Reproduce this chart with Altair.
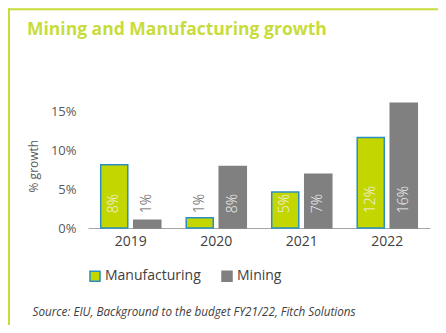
import altair as alt
import pandas as pd

years = ["2019", "2020", "2021", "2022"]
manufacturing = [8.1, 1.3, 4.6, 11.6]
mining = [1.0, 7.9, 6.9, 16.0]
series_names = ["Manufacturing", "Mining"]
y_ticks = [0, 5, 10, 15]
title_text = "Mining and Manufacturing growth"
source_text = "Source: EIU, Background to the budget FY21/22, Fitch Solutions"

rows = []
for i, yr in enumerate(years):
    rows.append({"year": yr, "series": series_names[0], "value": manufacturing[i]})
    rows.append({"year": yr, "series": series_names[1], "value": mining[i]})
df = pd.DataFrame(rows)

GREEN = "#c8dc3c"
FONT = "Open Sans"

x_enc = alt.X("year:N", sort=years,
              scale=alt.Scale(paddingInner=0, paddingOuter=0),
              axis=alt.Axis(title=source_text, titleAnchor="start", titleX=-56, titleY=87,
                            titleFontStyle="italic", titleFontWeight="normal", titleFontSize=11.7,
                            titleColor="#404040", titleFont=FONT, titleBaseline="alphabetic",
                            labelAngle=0, labelFontSize=14, labelColor="#404040", labelFont=FONT,
                            labelPadding=6, ticks=False, domainColor="#a6a6a6", domainWidth=1))
xoff = alt.XOffset("series:N", sort=series_names,
                   scale=alt.Scale(paddingInner=0.18, paddingOuter=0.385))
y_enc = alt.Y("value:Q", scale=alt.Scale(domain=[0, 16], nice=False),
              axis=alt.Axis(values=y_ticks, labelExpr="datum.value + '%'", title="% growth",
                            titleFontSize=12, titleFontWeight="normal", titleColor="#595959",
                            titleFont=FONT, titlePadding=10,
                            labelFontSize=13, labelColor="#595959", labelFont=FONT,
                            labelPadding=12, domain=False, ticks=False, grid=False))

legend_cfg = dict(title=None, orient="none", legendX=0, legendY=166,
                  direction="horizontal", symbolType="square", symbolSize=100,
                  symbolStrokeWidth=1.5, labelFontSize=14, labelFont=FONT,
                  labelColor="#404040", columnPadding=18, labelOffset=3)

base = alt.Chart(df)

bars = base.mark_bar(strokeWidth=1.5).encode(
    x=x_enc,
    xOffset=xoff,
    y=y_enc,
    fill=alt.Fill("series:N", sort=series_names,
                  scale=alt.Scale(domain=series_names, range=["#c4d600", "#808080"]),
                  legend=alt.Legend(**legend_cfg)),
    stroke=alt.Stroke("series:N", sort=series_names,
                      scale=alt.Scale(domain=series_names, range=["#2a8fc0", "#808080"]),
                      legend=alt.Legend(**legend_cfg)),
)

labels = base.transform_calculate(lab="format(datum.value, '.0f') + '%'").mark_text(
    angle=270, align="left", baseline="middle", fontSize=14, font=FONT, fontWeight=300).encode(
    x=alt.X("year:N", sort=years),
    xOffset=alt.XOffset("series:N", sort=series_names),
    y=alt.datum(1.9),
    text="lab:N",
    color=alt.condition("datum.value < 3", alt.value("#595959"), alt.value("#f2f2f2")),
)

one = alt.Data(values=[{"k": 1}])
left_border = alt.Chart(one).mark_rule(color=GREEN, strokeWidth=2).encode(
    x=alt.value(-79), y=alt.value(-95), y2=alt.value(222))
top_border = alt.Chart(one).mark_rule(color=GREEN, strokeWidth=2).encode(
    x=alt.value(-80), x2=alt.value(350), y=alt.value(-94))

chart = alt.layer(bars, labels, left_border, top_border).properties(
    width=342, height=124.8,
    padding={"left": 80, "top": 95.2, "right": 8, "bottom": 97},
    autosize=alt.AutoSizeParams(type="none"),
    background="white",
    title=alt.TitleParams(title_text, anchor="start", frame="group", dx=-61, offset=0, dy=45,
                          fontSize=17.5, fontWeight="bold", color=GREEN, font=FONT,
                          baseline="alphabetic"),
).configure_view(stroke=None)

chart.save("out.html", embed_options={"renderer": "svg", "actions": False})
